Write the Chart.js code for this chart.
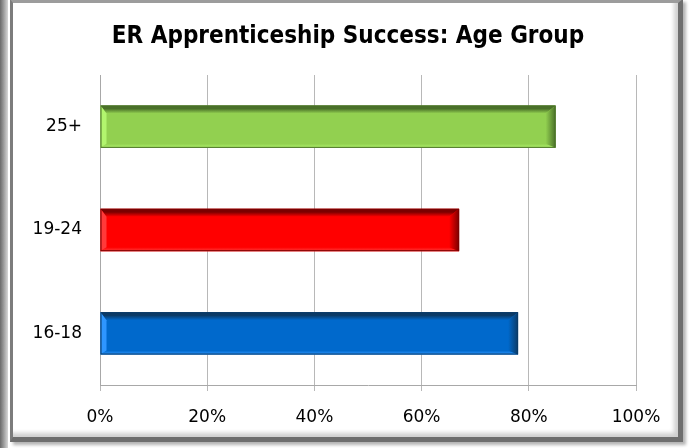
<!DOCTYPE html>
<html>
<head>
<meta charset="utf-8">
<script src="https://cdn.jsdelivr.net/npm/chart.js@4.4.1/dist/chart.umd.min.js"></script>
<style>
  html, body { margin: 0; padding: 0; background: #fff; }
  #wrap { position: relative; width: 689px; height: 448px; overflow: hidden; background: #fff; }
  #edge { position: absolute; left: 0; top: 0; width: 8px; height: 448px;
          background: linear-gradient(to right, #6a6a6a, #9a9a9a 45%, #d8d8d8); }
  #frame { position: absolute; left: 10px; top: -1px; width: 665px; height: 434px;
           border-style: solid; border-width: 4px 5px 5px 3px;
           border-color: #9c9c9c #6e6e6e #6e6e6e #7c7c7c;
           box-shadow: inset -4px -4px 4px #cfcfcf, 3px 3px 3px #b4b4b4; }
  canvas { position: absolute; left: 0; top: 0; }
</style>
</head>
<body>
<div id="wrap">
  <div id="edge"></div>
  <div id="frame"></div>
  <canvas id="myChart" width="689" height="448"></canvas>
</div>
<script>
const ageGroups = ['16-18', '19-24', '25+'];
const successRates = [78, 67, 85];
const percentTicks = [0, 20, 40, 60, 80, 100];
const chartTitle = 'ER Apprenticeship Success: Age Group';

// body / dark edge / light edge for each bar
const bodyColors = ['#0069cc', '#ff0000', '#92d050'];
const darkColors = ['#0b3a66', '#7a0000', '#4a7029'];
const lightColors = ['#2e96ff', '#ff3a3a', '#b2f56e'];

const FONT = 'DejaVu Sans';

function poly(ctx, pts, fill) {
    ctx.beginPath();
    ctx.moveTo(pts[0][0], pts[0][1]);
    for (let i = 1; i < pts.length; i++) ctx.lineTo(pts[i][0], pts[i][1]);
    ctx.closePath();
    ctx.fillStyle = fill;
    ctx.fill();
}

// 3D bevel on each bar
const bevelBars = {
    id: 'bevelBars',
    afterDatasetsDraw(chart) {
        const ctx = chart.ctx;
        chart.getDatasetMeta(0).data.forEach((bar, i) => {
            const x0 = Math.min(bar.base, bar.x), x1 = Math.max(bar.base, bar.x);
            const y0 = bar.y - bar.height / 2, y1 = bar.y + bar.height / 2;
            const bt = 8, bb = 4, bl = 6, br = 10;
            ctx.save();
            let g = ctx.createLinearGradient(0, y0, 0, y0 + bt);
            g.addColorStop(0, darkColors[i]);
            g.addColorStop(0.4, darkColors[i]);
            g.addColorStop(1, bodyColors[i]);
            poly(ctx, [[x0, y0], [x1, y0], [x1 - br, y0 + bt], [x0 + bl, y0 + bt]], g);
            g = ctx.createLinearGradient(0, y1 - bb, 0, y1);
            g.addColorStop(0, bodyColors[i]);
            g.addColorStop(1, lightColors[i]);
            poly(ctx, [[x0, y1], [x1, y1], [x1 - br, y1 - bb], [x0 + bl, y1 - bb]], g);
            poly(ctx, [[x0, y0], [x0 + bl, y0 + bt], [x0 + bl, y1 - bb], [x0, y1]], lightColors[i]);
            g = ctx.createLinearGradient(x1 - br, 0, x1, 0);
            g.addColorStop(0, bodyColors[i]);
            g.addColorStop(1, darkColors[i]);
            poly(ctx, [[x1, y0], [x1 - br, y0 + bt], [x1 - br, y1 - bb], [x1, y1]], g);
            ctx.strokeStyle = darkColors[i];
            ctx.lineWidth = 1;
            ctx.strokeRect(x0 + 0.5, y0 + 0.5, x1 - x0 - 1, y1 - y0 - 1);
            ctx.restore();
        });
    }
};

// title centred on the whole frame, not just the plot
const frameTitle = {
    id: 'frameTitle',
    afterDraw(chart) {
        const ctx = chart.ctx;
        ctx.save();
        ctx.font = 'bold 24px "DejaVu Sans Condensed", "DejaVu Sans"';
        ctx.fillStyle = '#000';
        ctx.textAlign = 'center';
        ctx.textBaseline = 'alphabetic';
        ctx.fillText(chartTitle, 348, 43);
        ctx.restore();
    }
};

const ctx = document.getElementById('myChart').getContext('2d');

new Chart(ctx, {
    type: 'bar',
    data: {
        labels: ageGroups,
        datasets: [{
            data: successRates,
            backgroundColor: bodyColors,
            borderWidth: 0,
            barPercentage: 0.41,
            categoryPercentage: 1
        }]
    },
    options: {
        indexAxis: 'y',
        responsive: false,
        animation: false,
        layout: { padding: { left: 16, right: 53, top: 75, bottom: 0 } },
        plugins: {
            legend: { display: false },
            tooltip: { enabled: false },
            title: { display: false }
        },
        scales: {
            x: {
                min: 0,
                max: 100,
                afterBuildTicks: (scale) => {
                    scale.ticks = percentTicks.map(v => ({ value: v }));
                },
                afterFit: (scale) => { scale.height = 63; },
                grid: { color: '#b8b8b8', tickLength: 6, drawTicks: true },
                border: { display: true, color: '#a8a8a8' },
                ticks: {
                    color: '#000',
                    padding: 16,
                    font: { family: FONT, size: 17 },
                    callback: v => v + '%'
                }
            },
            y: {
                reverse: true,
                afterFit: (scale) => { scale.width = 84; },
                grid: { display: false },
                border: { display: true, color: '#a8a8a8' },
                ticks: {
                    color: '#000',
                    padding: 10,
                    font: { family: FONT, size: 17 }
                }
            }
        }
    },
    plugins: [bevelBars, frameTitle]
});
</script>
</body>
</html>
